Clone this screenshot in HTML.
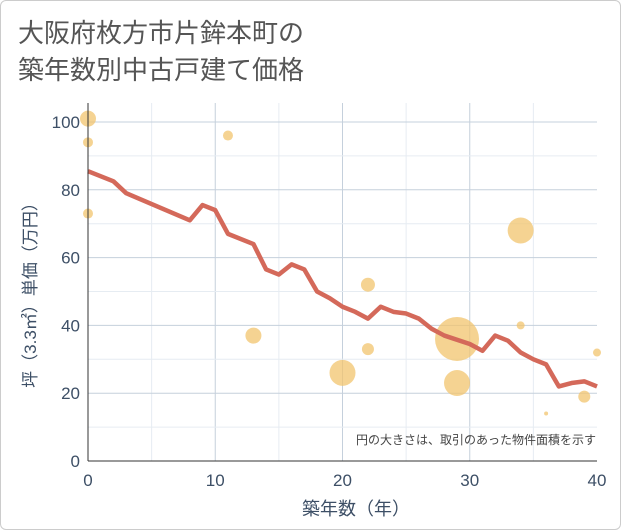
<!DOCTYPE html>
<html><head><meta charset="utf-8"><style>
body{margin:0;background:#fff;font-family:"Liberation Sans","Noto Sans CJK JP",sans-serif}
#wrap{position:relative;width:619px;height:528px;border:1px solid #ccc;border-radius:6px;background:#fff;overflow:hidden}
</style></head><body>
<div id="wrap">
<svg id="chart" width="619" height="528">
<text x="17" y="41" font-size="26" fill="#555" font-family="Liberation Sans,Noto Sans CJK JP,sans-serif">大阪府枚方市片鉾本町の</text>
<text x="17" y="78" font-size="26" fill="#555" font-family="Liberation Sans,Noto Sans CJK JP,sans-serif">築年数別中古戸建て価格</text>
<g id="grid"></g><g id="bubbles"></g><g id="line"></g><g id="axes"></g>
<text x="595" y="443" font-size="12" fill="#444" text-anchor="end">円の大きさは、取引のあった物件面積を示す</text>
<text x="355" y="514" font-size="18" fill="#3d4f66" text-anchor="middle">築年数（年）</text>
<text transform="translate(35,290) rotate(-90)" font-size="17" fill="#3d4f66" text-anchor="middle">坪（3.3㎡）単価（万円）</text>
</svg></div>
<script>
const xTicks=[0,10,20,30,40];
const yTicks=[0,20,40,60,80,100];
const lineYears=[0,2,3,8,9,10,11,13,14,15,16,17,18,19,20,21,22,23,24,25,26,27,28,30,31,32,33,34,35,36,37,38,39,40];
const linePrices=[85.5,82.5,79,71,75.5,74,67,64,56.5,55,58,56.5,50,48,45.5,44,42,45.5,44,43.5,42,39,37,34.5,32.5,37,35.5,32,30,28.5,22,23,23.5,22];
const bubbleYears=[0,0,0,11,13,20,22,22,29,29,34,34,36,39,40];
const bubblePrices=[101,94,73,96,37,26,52,33,36,23,68,40,14,19,32];
const bubbleSizes=[8,5,5,5,8,13,7,6,22,13,13,4,2,6,4];
const X0=87,X1=596,Y0=460,Y1=121;
const xs=v=>X0+(X1-X0)*v/40, ys=v=>Y0-(Y0-Y1)*v/100;
const NS="http://www.w3.org/2000/svg";
function mk(t,a,p){const e=document.createElementNS(NS,t);for(const k in a)e.setAttribute(k,a[k]);document.getElementById(p).appendChild(e);return e;}
const bg=mk("rect",{x:X0,y:102,width:X1-X0,height:Y0-102,fill:"#fff"},"grid");


for(let v=5;v<40;v+=5){const l=mk("line",{x1:xs(v),x2:xs(v),y1:102,y2:Y0,stroke:v%10?"#e6ecf2":"#c5d0dc","stroke-width":1},"grid");

}
for(let v=10;v<=100;v+=10){const l=mk("line",{x1:X0,x2:X1,y1:ys(v),y2:ys(v),stroke:v%20?"#e6ecf2":"#c5d0dc","stroke-width":1},"grid");

}
bubbleYears.forEach((yr,i)=>{const c=mk("circle",{cx:xs(yr),cy:ys(bubblePrices[i]),r:bubbleSizes[i],fill:"#f2c46e","fill-opacity":0.75},"bubbles");

});
const pl=mk("polyline",{points:lineYears.map((y,i)=>xs(y)+","+ys(linePrices[i])).join(" "),fill:"none",stroke:"#d4695a","stroke-width":4.5,"stroke-linejoin":"round"},"line");


const ax=mk("line",{x1:X0,x2:X0,y1:102,y2:Y0,stroke:"#333","stroke-width":1},"axes");


const bx=mk("line",{x1:X0,x2:X1,y1:Y0,y2:Y0,stroke:"#333","stroke-width":1},"axes");


xTicks.forEach(v=>{const t=mk("text",{x:xs(v),y:485,"font-size":17,fill:"#3d4f66","text-anchor":"middle"},"axes");t.textContent=v;

});
yTicks.forEach(v=>{const t=mk("text",{x:79,y:ys(v)+6,"font-size":17,fill:"#3d4f66","text-anchor":"end"},"axes");t.textContent=v;

});
</script>
</body></html>
